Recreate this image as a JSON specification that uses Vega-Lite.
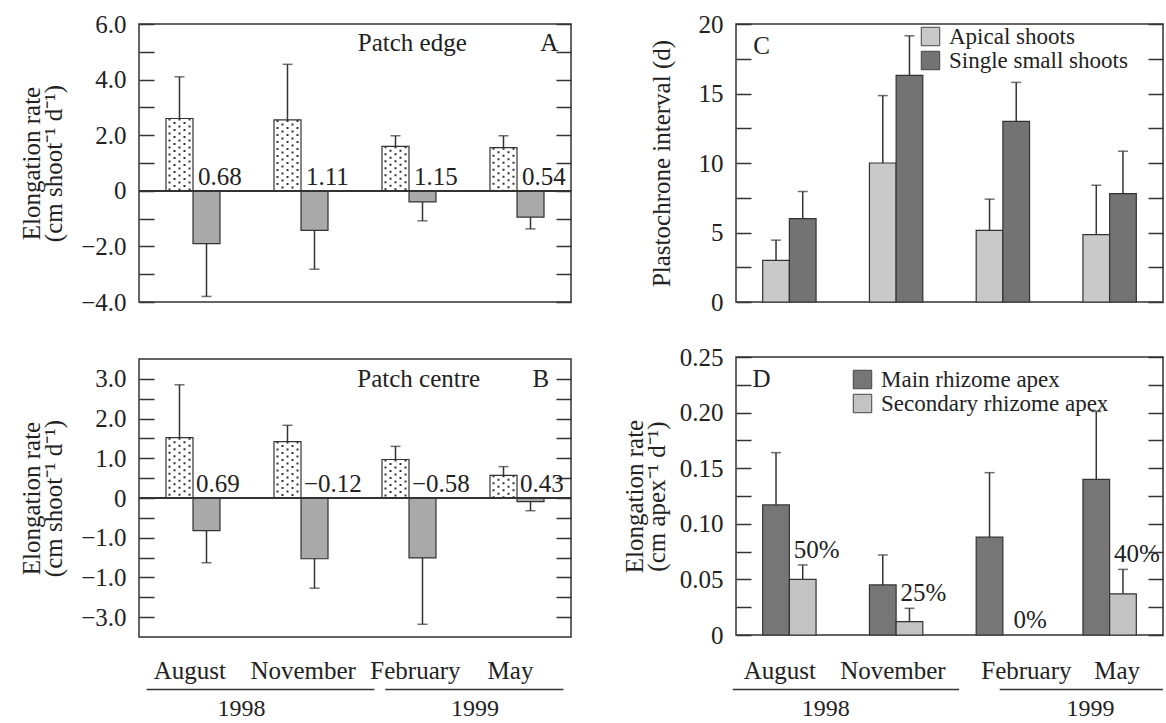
{
  "$schema": "https://vega.github.io/schema/vega-lite/v6.json",
  "padding": {"left": 18, "top": 11, "right": 0, "bottom": 0},
  "background": "white",
  "config": {
    "font": "Liberation Serif",
    "view": {"stroke": "#333", "strokeWidth": 1.5},
    "axis": {"labelFont": "Liberation Serif", "labelFontSize": 25, "labelColor": "#222", "titleFont": "Liberation Serif", "titleFontSize": 25, "titleFontWeight": "normal", "titleColor": "#222", "tickColor": "#333", "tickWidth": 1.5, "domain": false, "grid": false, "labelOverlap": false, "labelFlush": false},
    "legend": {"labelFont": "Liberation Serif", "labelFontSize": 23, "labelColor": "#222", "labelLimit": 400, "symbolType": "square", "symbolSize": 340, "symbolStrokeColor": "#444", "symbolStrokeWidth": 1, "symbolOpacity": 1, "rowPadding": -3.5, "labelOffset": 7, "padding": 0},
    "text": {"font": "Liberation Serif", "fontSize": 25, "color": "#222"}
  },
  "datasets": {
    "barsA": [
      {"month": "August", "series": "first", "value": 2.6, "err": 4.1},
      {"month": "August", "series": "second", "value": -1.9, "err": -3.8},
      {"month": "November", "series": "first", "value": 2.55, "err": 4.55},
      {"month": "November", "series": "second", "value": -1.42, "err": -2.82},
      {"month": "February", "series": "first", "value": 1.6, "err": 1.98},
      {"month": "February", "series": "second", "value": -0.4, "err": -1.08},
      {"month": "May", "series": "first", "value": 1.55, "err": 1.98},
      {"month": "May", "series": "second", "value": -0.95, "err": -1.37}
    ],
    "labelsA": [
      {"month": "August", "label": "0.68"},
      {"month": "November", "label": "1.11"},
      {"month": "February", "label": "1.15"},
      {"month": "May", "label": "0.54"}
    ],
    "barsB": [
      {"month": "August", "series": "first", "value": 1.52, "err": 2.85},
      {"month": "August", "series": "second", "value": -0.82, "err": -1.63},
      {"month": "November", "series": "first", "value": 1.42, "err": 1.83},
      {"month": "November", "series": "second", "value": -1.53, "err": -2.27},
      {"month": "February", "series": "first", "value": 0.97, "err": 1.3},
      {"month": "February", "series": "second", "value": -1.51, "err": -3.18},
      {"month": "May", "series": "first", "value": 0.57, "err": 0.79},
      {"month": "May", "series": "second", "value": -0.09, "err": -0.32}
    ],
    "labelsB": [
      {"month": "August", "label": "0.69"},
      {"month": "November", "label": "−0.12"},
      {"month": "February", "label": "−0.58"},
      {"month": "May", "label": "0.43"}
    ],
    "barsC": [
      {"month": "August", "series": "Apical shoots", "value": 3.0, "err": 4.45},
      {"month": "August", "series": "Single small shoots", "value": 6.0, "err": 7.95},
      {"month": "November", "series": "Apical shoots", "value": 10.0, "err": 14.85},
      {"month": "November", "series": "Single small shoots", "value": 16.3, "err": 19.15},
      {"month": "February", "series": "Apical shoots", "value": 5.15, "err": 7.4},
      {"month": "February", "series": "Single small shoots", "value": 13.0, "err": 15.8},
      {"month": "May", "series": "Apical shoots", "value": 4.85, "err": 8.4},
      {"month": "May", "series": "Single small shoots", "value": 7.8, "err": 10.85}
    ],
    "barsD": [
      {"month": "August", "series": "Main rhizome apex", "value": 0.117, "err": 0.164},
      {"month": "August", "series": "Secondary rhizome apex", "value": 0.05, "err": 0.063, "pct": "50%"},
      {"month": "November", "series": "Main rhizome apex", "value": 0.045, "err": 0.072},
      {"month": "November", "series": "Secondary rhizome apex", "value": 0.012, "err": 0.024, "pct": "25%"},
      {"month": "February", "series": "Main rhizome apex", "value": 0.088, "err": 0.146},
      {"month": "February", "series": "Secondary rhizome apex", "value": 0, "err": 0, "pct": "0%"},
      {"month": "May", "series": "Main rhizome apex", "value": 0.14, "err": 0.201},
      {"month": "May", "series": "Secondary rhizome apex", "value": 0.037, "err": 0.059, "pct": "40%"}
    ],
    "months": [
      {"month": "August"},
      {"month": "November"},
      {"month": "February"},
      {"month": "May"}
    ],
    "years": [
      {"year": "1998", "start": "August", "end": "November"},
      {"year": "1999", "start": "February", "end": "May"}
    ]
  },
  "hconcat": [
    {
      "vconcat": [
        {
          "width": 432, "height": 278,
          "data": {"name": "barsA"},
          "layer": [
            {"mark": {"type": "bar", "stroke": "#333", "strokeWidth": 1.2},
             "encoding": {
               "x": {"field": "month", "type": "nominal", "scale": {"domain": ["August", "November", "February", "May"], "paddingInner": 0, "paddingOuter": 0}, "axis": {"orient": "bottom", "tickBand": "extent", "tickSize": -15, "labels": false, "title": null}},
               "xOffset": {"field": "series", "type": "nominal", "scale": {"domain": ["first", "second"], "paddingInner": 0, "paddingOuter": 1}},
               "y": {"field": "value", "type": "quantitative", "scale": {"domain": [-4, 6], "nice": false, "zero": false}, "axis": {"orient": "left", "values": [-4, -3, -2, -1, 0, 1, 2, 3, 4, 5, 6], "tickSize": -15, "labelPadding": 28, "labelExpr": "datum.value % 2 === 0 ? (datum.value === 0 ? '0' : format(datum.value, '.1f')) : ''", "title": ["Elongation rate", "(cm shoot⁻¹ d⁻¹)"], "titlePadding": 14, "titleLineHeight": 22, "encode": {"ticks": {"x2": {"condition": {"test": "datum.value % 2 === 0", "value": 15}, "value": 8}}}}},
               "fill": {"condition": {"test": "datum.series === 'first'", "value": "#ffffff"}, "value": "#a9a9a9"}
             }},
            {"transform": [{"filter": "datum.series === 'first'"}], "mark": {"type": "rule", "xOffset": -10, "strokeDash": [2, 5], "strokeDashOffset": 0, "strokeWidth": 2, "color": "#333"}, "encoding": {"x": {"field": "month", "type": "nominal", "bandPosition": 0.375, "axis": null}, "y": {"field": "value", "type": "quantitative", "axis": null}, "y2": {"datum": 0}}},
            {"transform": [{"filter": "datum.series === 'first'"}], "mark": {"type": "rule", "xOffset": -5, "strokeDash": [2, 5], "strokeDashOffset": 3.5, "strokeWidth": 2, "color": "#333"}, "encoding": {"x": {"field": "month", "type": "nominal", "bandPosition": 0.375, "axis": null}, "y": {"field": "value", "type": "quantitative", "axis": null}, "y2": {"datum": 0}}},
            {"transform": [{"filter": "datum.series === 'first'"}], "mark": {"type": "rule", "xOffset": 0, "strokeDash": [2, 5], "strokeDashOffset": 0, "strokeWidth": 2, "color": "#333"}, "encoding": {"x": {"field": "month", "type": "nominal", "bandPosition": 0.375, "axis": null}, "y": {"field": "value", "type": "quantitative", "axis": null}, "y2": {"datum": 0}}},
            {"transform": [{"filter": "datum.series === 'first'"}], "mark": {"type": "rule", "xOffset": 5, "strokeDash": [2, 5], "strokeDashOffset": 3.5, "strokeWidth": 2, "color": "#333"}, "encoding": {"x": {"field": "month", "type": "nominal", "bandPosition": 0.375, "axis": null}, "y": {"field": "value", "type": "quantitative", "axis": null}, "y2": {"datum": 0}}},
            {"transform": [{"filter": "datum.series === 'first'"}], "mark": {"type": "rule", "xOffset": 10, "strokeDash": [2, 5], "strokeDashOffset": 0, "strokeWidth": 2, "color": "#333"}, "encoding": {"x": {"field": "month", "type": "nominal", "bandPosition": 0.375, "axis": null}, "y": {"field": "value", "type": "quantitative", "axis": null}, "y2": {"datum": 0}}},
            {"mark": {"type": "rule", "color": "#333", "strokeWidth": 1.5},
             "encoding": {"x": {"field": "month", "type": "nominal", "axis": null}, "xOffset": {"field": "series", "type": "nominal"}, "y": {"field": "value", "type": "quantitative", "axis": {"orient": "right", "values": [-4, -3, -2, -1, 0, 1, 2, 3, 4, 5, 6], "tickSize": -15, "labels": false, "title": null, "encode": {"ticks": {"x2": {"condition": {"test": "datum.value % 2 === 0", "value": -15}, "value": -8}}}}}, "y2": {"field": "err"}}},
            {"mark": {"type": "tick", "size": 10, "thickness": 1.5, "color": "#333"},
             "encoding": {"x": {"field": "month", "type": "nominal", "axis": null}, "xOffset": {"field": "series", "type": "nominal"}, "y": {"field": "err", "type": "quantitative", "axis": null}}},
            {"mark": {"type": "rule", "color": "#333", "strokeWidth": 1.5}, "encoding": {"y": {"datum": 0, "type": "quantitative", "axis": null}}},
            {"data": {"name": "labelsA"}, "mark": {"type": "text", "align": "left", "baseline": "alphabetic", "dx": 5, "dy": -6},
             "encoding": {"x": {"field": "month", "type": "nominal", "axis": null}, "y": {"datum": 0, "type": "quantitative", "axis": null}, "text": {"field": "label"}}},
            {"data": {"values": [{"note": "Patch edge"}]}, "mark": {"type": "text"},
             "encoding": {"x": {"datum": "February", "type": "nominal", "bandPosition": 0.53, "axis": null}, "y": {"datum": 5.3, "type": "quantitative", "axis": null}, "text": {"field": "note"}}},
            {"data": {"values": [{"note": "A"}]}, "mark": {"type": "text"},
             "encoding": {"x": {"datum": "May", "type": "nominal", "bandPosition": 0.8, "axis": null}, "y": {"datum": 5.3, "type": "quantitative", "axis": null}, "text": {"field": "note"}}}
          ],
          "resolve": {"axis": {"y": "independent"}}
        },
        {
          "vconcat": [
            {
              "width": 432, "height": 278,
              "data": {"name": "barsB"},
              "layer": [
                {"mark": {"type": "bar", "stroke": "#333", "strokeWidth": 1.2},
                 "encoding": {
                   "x": {"field": "month", "type": "nominal", "scale": {"domain": ["August", "November", "February", "May"], "paddingInner": 0, "paddingOuter": 0}, "axis": {"orient": "bottom", "tickBand": "extent", "tickSize": -15, "labels": false, "title": null}},
                   "xOffset": {"field": "series", "type": "nominal", "scale": {"domain": ["first", "second"], "paddingInner": 0, "paddingOuter": 1}},
                   "y": {"field": "value", "type": "quantitative", "scale": {"domain": [-3.5, 3.5], "nice": false, "zero": false}, "axis": {"orient": "left", "values": [-3, -2.5, -2, -1.5, -1, -0.5, 0, 0.5, 1, 1.5, 2, 2.5, 3], "tickSize": -15, "labelPadding": 28, "labelExpr": "datum.value % 1 === 0 ? (datum.value === 0 ? '0' : (datum.value === -2 ? '−1.0' : format(datum.value, '.1f'))) : ''", "title": ["Elongation rate", "(cm shoot⁻¹ d⁻¹)"], "titlePadding": 14, "titleLineHeight": 22, "encode": {"ticks": {"x2": {"condition": {"test": "datum.value % 1 === 0", "value": 15}, "value": 8}}}}},
                   "fill": {"condition": {"test": "datum.series === 'first'", "value": "#ffffff"}, "value": "#a9a9a9"}
                 }},
                {"transform": [{"filter": "datum.series === 'first'"}], "mark": {"type": "rule", "xOffset": -10, "strokeDash": [2, 5], "strokeDashOffset": 0, "strokeWidth": 2, "color": "#333"}, "encoding": {"x": {"field": "month", "type": "nominal", "bandPosition": 0.375, "axis": null}, "y": {"field": "value", "type": "quantitative", "axis": null}, "y2": {"datum": 0}}},
                {"transform": [{"filter": "datum.series === 'first'"}], "mark": {"type": "rule", "xOffset": -5, "strokeDash": [2, 5], "strokeDashOffset": 3.5, "strokeWidth": 2, "color": "#333"}, "encoding": {"x": {"field": "month", "type": "nominal", "bandPosition": 0.375, "axis": null}, "y": {"field": "value", "type": "quantitative", "axis": null}, "y2": {"datum": 0}}},
                {"transform": [{"filter": "datum.series === 'first'"}], "mark": {"type": "rule", "xOffset": 0, "strokeDash": [2, 5], "strokeDashOffset": 0, "strokeWidth": 2, "color": "#333"}, "encoding": {"x": {"field": "month", "type": "nominal", "bandPosition": 0.375, "axis": null}, "y": {"field": "value", "type": "quantitative", "axis": null}, "y2": {"datum": 0}}},
                {"transform": [{"filter": "datum.series === 'first'"}], "mark": {"type": "rule", "xOffset": 5, "strokeDash": [2, 5], "strokeDashOffset": 3.5, "strokeWidth": 2, "color": "#333"}, "encoding": {"x": {"field": "month", "type": "nominal", "bandPosition": 0.375, "axis": null}, "y": {"field": "value", "type": "quantitative", "axis": null}, "y2": {"datum": 0}}},
                {"transform": [{"filter": "datum.series === 'first'"}], "mark": {"type": "rule", "xOffset": 10, "strokeDash": [2, 5], "strokeDashOffset": 0, "strokeWidth": 2, "color": "#333"}, "encoding": {"x": {"field": "month", "type": "nominal", "bandPosition": 0.375, "axis": null}, "y": {"field": "value", "type": "quantitative", "axis": null}, "y2": {"datum": 0}}},
                {"mark": {"type": "rule", "color": "#333", "strokeWidth": 1.5},
                 "encoding": {"x": {"field": "month", "type": "nominal", "axis": null}, "xOffset": {"field": "series", "type": "nominal"}, "y": {"field": "value", "type": "quantitative", "axis": {"orient": "right", "values": [-3, -2.5, -2, -1.5, -1, -0.5, 0, 0.5, 1, 1.5, 2, 2.5, 3], "tickSize": -15, "labels": false, "title": null, "encode": {"ticks": {"x2": {"condition": {"test": "datum.value % 1 === 0", "value": -15}, "value": -8}}}}}, "y2": {"field": "err"}}},
                {"mark": {"type": "tick", "size": 10, "thickness": 1.5, "color": "#333"},
                 "encoding": {"x": {"field": "month", "type": "nominal", "axis": null}, "xOffset": {"field": "series", "type": "nominal"}, "y": {"field": "err", "type": "quantitative", "axis": null}}},
                {"mark": {"type": "rule", "color": "#333", "strokeWidth": 1.5}, "encoding": {"y": {"datum": 0, "type": "quantitative", "axis": null}}},
                {"data": {"name": "labelsB"}, "mark": {"type": "text", "align": "left", "baseline": "alphabetic", "dx": 3, "dy": -6},
                 "encoding": {"x": {"field": "month", "type": "nominal", "axis": null}, "y": {"datum": 0, "type": "quantitative", "axis": null}, "text": {"field": "label"}}},
                {"data": {"values": [{"note": "Patch centre"}]}, "mark": {"type": "text"},
                 "encoding": {"x": {"datum": "February", "type": "nominal", "bandPosition": 0.59, "axis": null}, "y": {"datum": 3.0, "type": "quantitative", "axis": null}, "text": {"field": "note"}}},
                {"data": {"values": [{"note": "B"}]}, "mark": {"type": "text"},
                 "encoding": {"x": {"datum": "May", "type": "nominal", "bandPosition": 0.72, "axis": null}, "y": {"datum": 3.0, "type": "quantitative", "axis": null}, "text": {"field": "note"}}}
              ],
              "resolve": {"axis": {"y": "independent"}}
            },
            {
              "width": 432, "height": 57,
              "view": {"stroke": null},
              "layer": [
                {"data": {"name": "months"}, "transform": [{"filter": "datum.month === 'August'"}], "mark": {"type": "text"},
                 "encoding": {"x": {"field": "month", "type": "nominal", "bandPosition": 0.47, "scale": {"domain": ["August", "November", "February", "May"], "paddingInner": 0, "paddingOuter": 0}, "axis": null}, "y": {"datum": "month", "type": "nominal", "scale": {"domain": ["month", "line", "year"]}, "axis": null}, "text": {"field": "month"}}},
                {"data": {"name": "months"}, "transform": [{"filter": "datum.month === 'November'"}], "mark": {"type": "text"},
                 "encoding": {"x": {"field": "month", "type": "nominal", "bandPosition": 0.52, "axis": null}, "y": {"datum": "month", "type": "nominal", "axis": null}, "text": {"field": "month"}}},
                {"data": {"name": "months"}, "transform": [{"filter": "datum.month === 'February'"}], "mark": {"type": "text"},
                 "encoding": {"x": {"field": "month", "type": "nominal", "bandPosition": 0.56, "axis": null}, "y": {"datum": "month", "type": "nominal", "axis": null}, "text": {"field": "month"}}},
                {"data": {"name": "months"}, "transform": [{"filter": "datum.month === 'May'"}], "mark": {"type": "text"},
                 "encoding": {"x": {"field": "month", "type": "nominal", "bandPosition": 0.44, "axis": null}, "y": {"datum": "month", "type": "nominal", "axis": null}, "text": {"field": "month"}}},
                {"data": {"name": "years"}, "transform": [{"filter": "datum.year === '1998'"}], "mark": {"type": "rule", "color": "#333", "strokeWidth": 1.5},
                 "encoding": {"x": {"field": "start", "type": "nominal", "bandPosition": 0.07, "axis": null}, "x2": {"field": "end", "bandPosition": 1.18}, "y": {"datum": "line", "type": "nominal", "axis": null}}},
                {"data": {"name": "years"}, "transform": [{"filter": "datum.year === '1999'"}], "mark": {"type": "rule", "color": "#333", "strokeWidth": 1.5},
                 "encoding": {"x": {"field": "start", "type": "nominal", "bandPosition": 0.28, "axis": null}, "x2": {"field": "end", "bandPosition": 0.93}, "y": {"datum": "line", "type": "nominal", "axis": null}}},
                {"data": {"name": "years"}, "transform": [{"filter": "datum.year === '1998'"}], "mark": {"type": "text", "fontSize": 24},
                 "encoding": {"x": {"field": "start", "type": "nominal", "bandPosition": 0.95, "axis": null}, "y": {"datum": "year", "type": "nominal", "axis": null}, "text": {"field": "year"}}},
                {"data": {"name": "years"}, "transform": [{"filter": "datum.year === '1999'"}], "mark": {"type": "text", "fontSize": 24},
                 "encoding": {"x": {"field": "start", "type": "nominal", "bandPosition": 1.11, "axis": null}, "y": {"datum": "year", "type": "nominal", "axis": null}, "text": {"field": "year"}}}
              ]
            }
          ],
          "spacing": 20,
          "resolve": {"scale": {"color": "independent", "xOffset": "independent"}}
        }
      ],
      "spacing": 42,
      "resolve": {"scale": {"color": "independent", "xOffset": "independent"}}
    },
    {
      "vconcat": [
        {
          "width": 427, "height": 278,
          "data": {"name": "barsC"},
          "layer": [
            {"mark": {"type": "bar", "stroke": "#333", "strokeWidth": 1.2},
             "encoding": {
               "x": {"field": "month", "type": "nominal", "scale": {"domain": ["August", "November", "February", "May"], "paddingInner": 0, "paddingOuter": 0}, "axis": {"orient": "bottom", "tickBand": "extent", "tickSize": -15, "labels": false, "title": null}},
               "xOffset": {"field": "series", "type": "nominal", "scale": {"domain": ["Apical shoots", "Single small shoots"], "paddingInner": 0, "paddingOuter": 1}},
               "y": {"field": "value", "type": "quantitative", "scale": {"domain": [0, 20], "nice": false}, "axis": {"orient": "left", "values": [0, 2.5, 5, 7.5, 10, 12.5, 15, 17.5, 20], "tickSize": -15, "labelPadding": 28, "labelExpr": "datum.value % 5 === 0 ? format(datum.value, 'd') : ''", "title": "Plastochrone interval (d)", "titlePadding": 24, "encode": {"ticks": {"x2": {"condition": {"test": "datum.value % 5 === 0", "value": 15}, "value": 8}}}}},
               "color": {"field": "series", "type": "nominal", "scale": {"domain": ["Apical shoots", "Single small shoots"], "range": ["#c9c9c9", "#737373"]}, "legend": {"orient": "none", "legendX": 183, "legendY": 1, "title": null}}
             }},
            {"mark": {"type": "rule", "color": "#333", "strokeWidth": 1.5},
             "encoding": {"x": {"field": "month", "type": "nominal", "axis": null}, "xOffset": {"field": "series", "type": "nominal"}, "y": {"field": "value", "type": "quantitative", "axis": {"orient": "right", "values": [0, 2.5, 5, 7.5, 10, 12.5, 15, 17.5, 20], "tickSize": -15, "labels": false, "title": null, "encode": {"ticks": {"x2": {"condition": {"test": "datum.value % 5 === 0", "value": -15}, "value": -8}}}}}, "y2": {"field": "err"}}},
            {"mark": {"type": "tick", "size": 10, "thickness": 1.5, "color": "#333"},
             "encoding": {"x": {"field": "month", "type": "nominal", "axis": null}, "xOffset": {"field": "series", "type": "nominal"}, "y": {"field": "err", "type": "quantitative", "axis": null}}},
            {"data": {"values": [{"note": "C"}]}, "mark": {"type": "text"},
             "encoding": {"x": {"datum": "August", "type": "nominal", "bandPosition": 0.24, "axis": null}, "y": {"datum": 18.4, "type": "quantitative", "axis": null}, "text": {"field": "note"}}}
          ],
          "resolve": {"axis": {"y": "independent"}}
        },
        {
          "vconcat": [
            {
              "width": 427, "height": 278,
              "data": {"name": "barsD"},
              "layer": [
                {"transform": [{"filter": "datum.value > 0"}], "mark": {"type": "bar", "stroke": "#333", "strokeWidth": 1.2},
                 "encoding": {
                   "x": {"field": "month", "type": "nominal", "scale": {"domain": ["August", "November", "February", "May"], "paddingInner": 0, "paddingOuter": 0}, "axis": {"orient": "bottom", "tickBand": "extent", "tickSize": -15, "labels": false, "title": null}},
                   "xOffset": {"field": "series", "type": "nominal", "scale": {"domain": ["Main rhizome apex", "Secondary rhizome apex"], "paddingInner": 0, "paddingOuter": 1}},
                   "y": {"field": "value", "type": "quantitative", "scale": {"domain": [0, 0.25], "nice": false}, "axis": {"orient": "left", "values": [0, 0.025, 0.05, 0.075, 0.1, 0.125, 0.15, 0.175, 0.2, 0.225, 0.25], "tickSize": -15, "labelPadding": 28, "labelExpr": "round(datum.value * 1000) % 50 === 0 ? (datum.value === 0 ? '0' : format(datum.value, '.2f')) : ''", "title": ["Elongation rate", "(cm apex⁻¹ d⁻¹)"], "titlePadding": 10, "titleLineHeight": 22, "encode": {"ticks": {"x2": {"condition": {"test": "round(datum.value * 1000) % 50 === 0", "value": 15}, "value": 8}}}}},
                   "color": {"field": "series", "type": "nominal", "scale": {"domain": ["Main rhizome apex", "Secondary rhizome apex"], "range": ["#767676", "#c3c3c3"]}, "legend": {"orient": "none", "legendX": 115, "legendY": 11, "title": null}}
                 }},
                {"transform": [{"filter": "datum.err > datum.value"}], "mark": {"type": "rule", "color": "#333", "strokeWidth": 1.5},
                 "encoding": {"x": {"field": "month", "type": "nominal", "axis": null}, "xOffset": {"field": "series", "type": "nominal"}, "y": {"field": "value", "type": "quantitative", "axis": {"orient": "right", "values": [0, 0.025, 0.05, 0.075, 0.1, 0.125, 0.15, 0.175, 0.2, 0.225, 0.25], "tickSize": -15, "labels": false, "title": null, "encode": {"ticks": {"x2": {"condition": {"test": "round(datum.value * 1000) % 50 === 0", "value": -15}, "value": -8}}}}}, "y2": {"field": "err"}}},
                {"transform": [{"filter": "datum.err > datum.value"}], "mark": {"type": "tick", "size": 10, "thickness": 1.5, "color": "#333"},
                 "encoding": {"x": {"field": "month", "type": "nominal", "axis": null}, "xOffset": {"field": "series", "type": "nominal"}, "y": {"field": "err", "type": "quantitative", "axis": null}}},
                {"transform": [{"filter": "datum.series === 'Secondary rhizome apex'"}], "mark": {"type": "text", "baseline": "alphabetic", "dx": 14, "dy": -7},
                 "encoding": {"x": {"field": "month", "type": "nominal", "axis": null}, "xOffset": {"field": "series", "type": "nominal"}, "y": {"field": "err", "type": "quantitative", "axis": null}, "text": {"field": "pct"}}},
                {"data": {"values": [{"note": "D"}]}, "mark": {"type": "text"},
                 "encoding": {"x": {"datum": "August", "type": "nominal", "bandPosition": 0.24, "axis": null}, "y": {"datum": 0.23, "type": "quantitative", "axis": null}, "text": {"field": "note"}}}
              ],
              "resolve": {"axis": {"y": "independent"}}
            },
            {
              "width": 427, "height": 57,
              "view": {"stroke": null},
              "layer": [
                {"data": {"name": "months"}, "transform": [{"filter": "datum.month === 'August'"}], "mark": {"type": "text"},
                 "encoding": {"x": {"field": "month", "type": "nominal", "bandPosition": 0.41, "scale": {"domain": ["August", "November", "February", "May"], "paddingInner": 0, "paddingOuter": 0}, "axis": null}, "y": {"datum": "month", "type": "nominal", "scale": {"domain": ["month", "line", "year"]}, "axis": null}, "text": {"field": "month"}}},
                {"data": {"name": "months"}, "transform": [{"filter": "datum.month === 'November'"}], "mark": {"type": "text"},
                 "encoding": {"x": {"field": "month", "type": "nominal", "bandPosition": 0.47, "axis": null}, "y": {"datum": "month", "type": "nominal", "axis": null}, "text": {"field": "month"}}},
                {"data": {"name": "months"}, "transform": [{"filter": "datum.month === 'February'"}], "mark": {"type": "text"},
                 "encoding": {"x": {"field": "month", "type": "nominal", "bandPosition": 0.72, "axis": null}, "y": {"datum": "month", "type": "nominal", "axis": null}, "text": {"field": "month"}}},
                {"data": {"name": "months"}, "transform": [{"filter": "datum.month === 'May'"}], "mark": {"type": "text"},
                 "encoding": {"x": {"field": "month", "type": "nominal", "bandPosition": 0.57, "axis": null}, "y": {"datum": "month", "type": "nominal", "axis": null}, "text": {"field": "month"}}},
                {"data": {"name": "years"}, "transform": [{"filter": "datum.year === '1998'"}], "mark": {"type": "rule", "color": "#333", "strokeWidth": 1.5},
                 "encoding": {"x": {"field": "start", "type": "nominal", "bandPosition": -0.03, "axis": null}, "x2": {"field": "end", "bandPosition": 1.09}, "y": {"datum": "line", "type": "nominal", "axis": null}}},
                {"data": {"name": "years"}, "transform": [{"filter": "datum.year === '1999'"}], "mark": {"type": "rule", "color": "#333", "strokeWidth": 1.5},
                 "encoding": {"x": {"field": "start", "type": "nominal", "bandPosition": 0.47, "axis": null}, "x2": {"field": "end", "bandPosition": 1.0}, "y": {"datum": "line", "type": "nominal", "axis": null}}},
                {"data": {"name": "years"}, "transform": [{"filter": "datum.year === '1998'"}], "mark": {"type": "text", "fontSize": 24},
                 "encoding": {"x": {"field": "start", "type": "nominal", "bandPosition": 0.84, "axis": null}, "y": {"datum": "year", "type": "nominal", "axis": null}, "text": {"field": "year"}}},
                {"data": {"name": "years"}, "transform": [{"filter": "datum.year === '1999'"}], "mark": {"type": "text", "fontSize": 24},
                 "encoding": {"x": {"field": "start", "type": "nominal", "bandPosition": 1.32, "axis": null}, "y": {"datum": "year", "type": "nominal", "axis": null}, "text": {"field": "year"}}}
              ]
            }
          ],
          "spacing": 9,
          "resolve": {"scale": {"color": "independent", "xOffset": "independent"}}
        }
      ],
      "spacing": 28,
      "resolve": {"scale": {"color": "independent", "xOffset": "independent"}}
    }
  ],
  "spacing": 48,
  "resolve": {"scale": {"color": "independent", "xOffset": "independent"}}
}
